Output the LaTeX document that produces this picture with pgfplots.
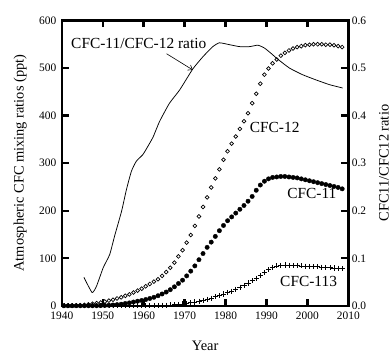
\documentclass[border=0pt]{standalone}
\usepackage{fontspec}
\setmainfont{Liberation Serif}
\usepackage{pgfplots}
\pgfplotsset{compat=1.18}
\usetikzlibrary{arrows.meta}

\pgfplotsset{
  common/.style={
    at={(0,0)}, anchor=south west, scale only axis,
    width=287.3bp, height=286.2bp,
    xmin=1940, xmax=2010,
    axis line style={line width=2.4bp},
    tick label style={font=\fontsize{11.5}{12}\selectfont},
    label style={font=\fontsize{14.5}{16}\selectfont},
    /pgf/number format/assume math mode=true,
  }
}

\begin{document}
\begin{tikzpicture}
\path (-62bp,-47.3bp) rectangle (330bp,306.7bp);
\begin{axis}[common,
  ymin=0, ymax=600,
  xtick={1940,1950,...,2010}, ytick={0,100,...,600},
  xtick pos=both, ytick pos=left,
  tick align=inside, major tick length=7bp,
  every major tick/.append style={line width=2.4bp, black},
  /pgf/number format/1000 sep={},
  xticklabel style={yshift=-3bp},
  yticklabel style={xshift=-2bp},
  xlabel={Year}, ylabel={Atmospheric CFC mixing ratios (ppt)},
  xlabel style={at={(axis description cs:0.5,-0.14)}, anchor=center},
  ylabel style={at={(axis description cs:-0.145,0.5)}, anchor=center},
]
% CFC-12
\addplot[only marks, mark=o, mark size=1.9bp, mark options={line width=0.7bp}] coordinates {
(1940.5,0.3)(1941.5,0.5)(1942.5,0.8)(1943.5,1.1)(1944.5,1.5)(1945.5,2.2)(1946.5,3.0)(1947.5,4.2)(1948.5,5.5)(1949.5,7)
(1950.5,9)(1951.5,11)(1952.5,13)(1953.5,15.5)(1954.5,18)(1955.5,21)(1956.5,24)(1957.5,28)(1958.5,32)(1959.5,36)
(1960.5,41)(1961.5,46)(1962.5,51)(1963.5,56)(1964.5,63)(1965.5,71)(1966.5,80)(1967.5,91)(1968.5,104)(1969.5,117)
(1970.5,133)(1971.5,149)(1972.5,168)(1973.5,188)(1974.5,208)(1975.5,228)(1976.5,249)(1977.5,268)(1978.5,287)(1979.5,307)
(1980.5,325)(1981.5,341)(1982.5,356)(1983.5,372)(1984.5,388)(1985.5,405)(1986.5,426)(1987.5,446)(1988.5,467)(1989.5,486)
(1990.5,499)(1991.5,510)(1992.5,518)(1993.5,526)(1994.5,532)(1995.5,537)(1996.5,541)(1997.5,544)(1998.5,546)(1999.5,548)
(2000.5,549)(2001.5,550)(2002.5,550)(2003.5,550)(2004.5,549)(2005.5,549)(2006.5,548)(2007.5,546)(2008.5,544)
};
% CFC-11
\addplot[only marks, mark=*, mark size=2.2bp] coordinates {
(1940.5,0.1)(1941.5,0.1)(1942.5,0.1)(1943.5,0.1)(1944.5,0.1)(1945.5,0.13)(1946.5,0.13)(1947.5,0.13)(1948.5,0.2)(1949.5,0.45)
(1950.5,0.8)(1951.5,1.2)(1952.5,1.8)(1953.5,2.6)(1954.5,3.5)(1955.5,4.9)(1956.5,6.2)(1957.5,8)(1958.5,9.8)(1959.5,11.3)
(1960.5,13.3)(1961.5,15.5)(1962.5,18)(1963.5,21.3)(1964.5,25)(1965.5,29)(1966.5,34)(1967.5,40)(1968.5,47)(1969.5,54)
(1970.5,63)(1971.5,73)(1972.5,84)(1973.5,97)(1974.5,110)(1975.5,123)(1976.5,134)(1977.5,146)(1978.5,158)(1979.5,169)
(1980.5,179)(1981.5,187)(1982.5,195)(1983.5,203)(1984.5,211)(1985.5,220)(1986.5,230)(1987.5,243)(1988.5,254)(1989.5,262)
(1990.5,267)(1991.5,270)(1992.5,271)(1993.5,272)(1994.5,272)(1995.5,271)(1996.5,270)(1997.5,269)(1998.5,267)(1999.5,265)
(2000.5,263)(2001.5,261)(2002.5,259)(2003.5,257)(2004.5,255)(2005.5,253)(2006.5,251)(2007.5,249)(2008.5,246)
};
% CFC-113
\addplot[only marks, mark=+, mark size=2.6bp, mark options={line width=0.7bp}] coordinates {
(1940.5,0)(1941.5,0)(1942.5,0)(1943.5,0)(1944.5,0)(1945.5,0)(1946.5,0)(1947.5,0)(1948.5,0)(1949.5,0)
(1950.5,0)(1951.5,0)(1952.5,0)(1953.5,0)(1954.5,0)(1955.5,0)(1956.5,0)(1957.5,0)(1958.5,0.2)(1959.5,0.3)
(1960.5,0.5)(1961.5,0.6)(1962.5,0.8)(1963.5,1)(1964.5,1.2)(1965.5,1.5)(1966.5,2)(1967.5,2.5)(1968.5,3)(1969.5,4)
(1970.5,5)(1971.5,6.5)(1972.5,8)(1973.5,10)(1974.5,12)(1975.5,14)(1976.5,16)(1977.5,19)(1978.5,22)(1979.5,25)
(1980.5,28)(1981.5,31)(1982.5,35)(1983.5,39)(1984.5,43)(1985.5,48)(1986.5,53)(1987.5,58)(1988.5,64)(1989.5,70)
(1990.5,76)(1991.5,81)(1992.5,84)(1993.5,85)(1994.5,86)(1995.5,85.5)(1996.5,85)(1997.5,84.5)(1998.5,84)(1999.5,83.5)
(2000.5,83)(2001.5,82.5)(2002.5,82)(2003.5,81)(2004.5,80.5)(2005.5,80)(2006.5,79.5)(2007.5,79)(2008.5,78)
};
\node[font=\fontsize{15.5}{17}\selectfont] at (axis cs:1958.8,552) {CFC-11/CFC-12 ratio};
\draw[-{Straight Barb[length=4bp,width=6bp]}, line width=0.6bp] (axis cs:1965.6,530) -- (axis cs:1972,496);
\node[font=\fontsize{15.5}{17}\selectfont] at (axis cs:1992,376) {CFC-12};
\node[font=\fontsize{15.5}{17}\selectfont] at (axis cs:2001.1,237) {CFC-11};
\node[font=\fontsize{15.5}{17}\selectfont] at (axis cs:2000.3,51) {CFC-113};
\end{axis}
\begin{axis}[common,
  ymin=0, ymax=0.6,
  axis x line=none, axis y line*=right,
  ytick={0,0.1,0.2,0.3,0.4,0.5,0.6},
  tick align=inside, major tick length=7bp,
  every major tick/.append style={line width=2.4bp, black},
  yticklabel style={/pgf/number format/.cd, fixed, fixed zerofill, precision=1},
  ylabel={CFC11/CFC12 ratio},
  ylabel style={at={(axis description cs:1.124,0.5)}, anchor=center},
]
\addplot[black, line width=0.75bp, smooth, tension=0.3] coordinates {
(1945.4,0.060)(1947.4,0.028)(1948.5,0.042)(1950.1,0.080)(1951.7,0.108)(1952.9,0.147)(1954.6,0.199)(1955.8,0.245)
(1957.0,0.283)(1958.2,0.304)(1959.8,0.318)(1961.0,0.335)(1962.3,0.355)(1963.9,0.388)(1966.3,0.426)(1968.8,0.454)
(1972.0,0.498)(1974.5,0.524)(1976.9,0.545)(1978.5,0.553)(1981.0,0.549)(1983.4,0.545)(1985.9,0.545)(1987.9,0.548)
(1989.5,0.542)(1991.1,0.531)(1992.7,0.519)(1995.6,0.500)(1998.8,0.486)(2002.1,0.475)(2005.4,0.465)(2008.6,0.458)
};
\end{axis}
\end{tikzpicture}
\end{document}
